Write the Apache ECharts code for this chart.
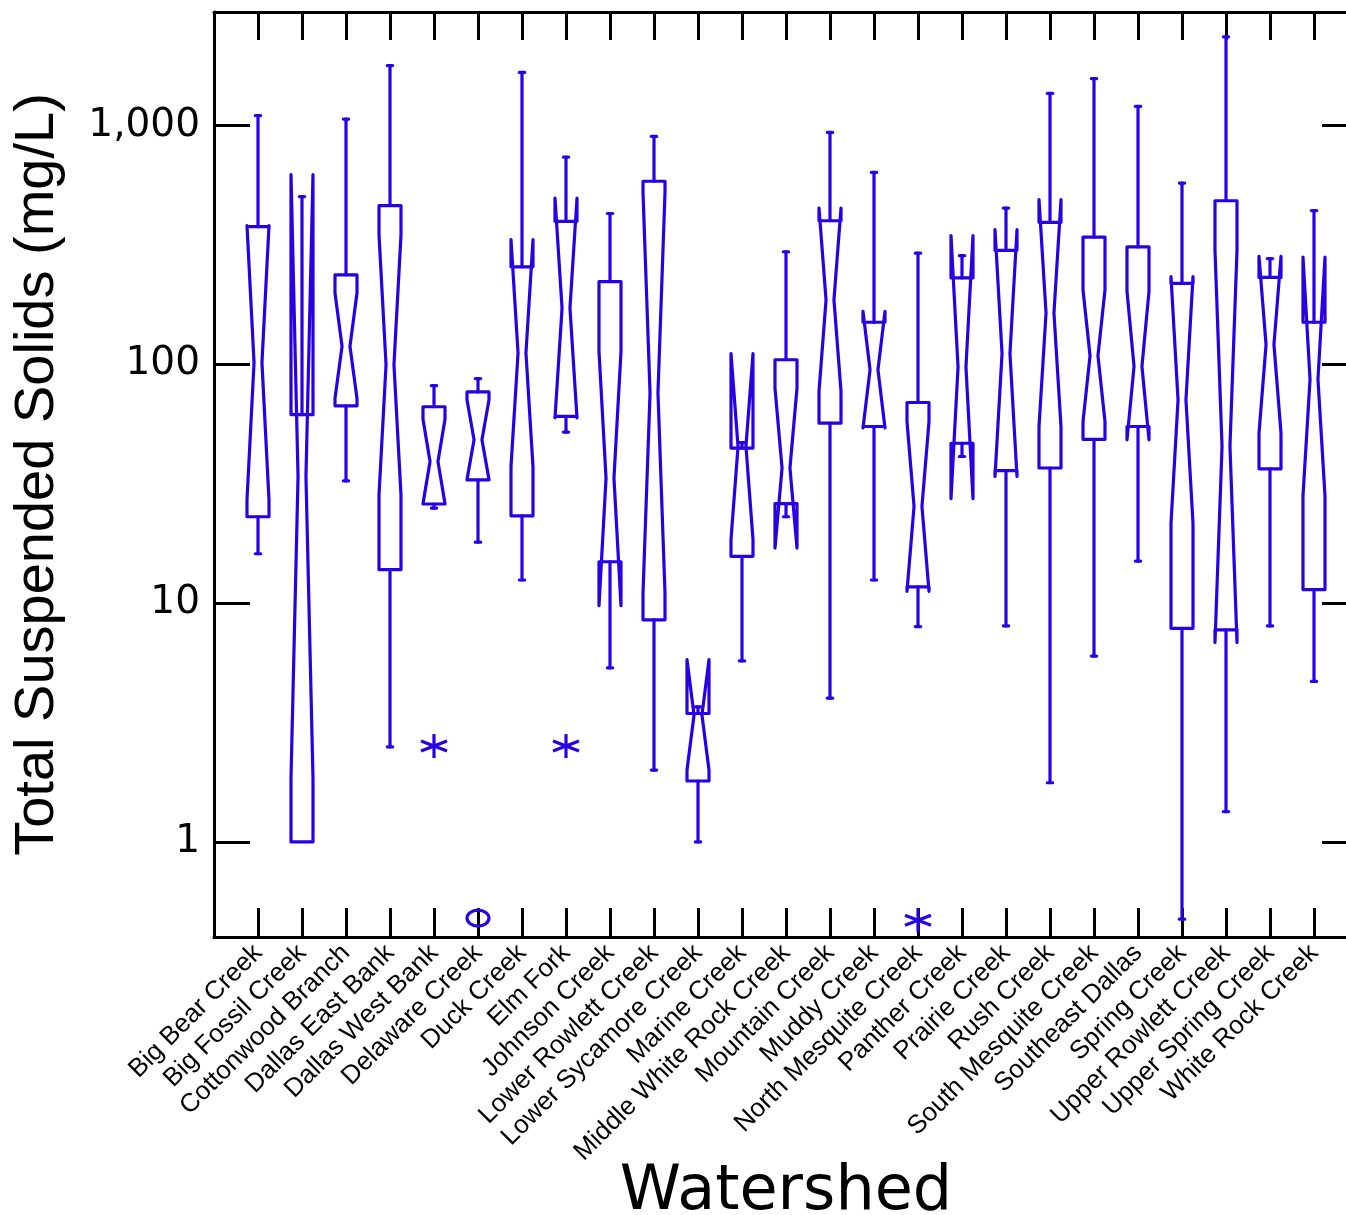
<!DOCTYPE html>
<html><head><meta charset="utf-8">
<script src="https://cdn.jsdelivr.net/npm/echarts@6/dist/echarts.min.js"></script>
<style>html,body{margin:0;padding:0;background:#fff}#c{width:1346px;height:1215px}</style>
</head><body><div id="c"></div>
<script>
const categories = ['Big Bear Creek','Big Fossil Creek','Cottonwood Branch','Dallas East Bank','Dallas West Bank','Delaware Creek','Duck Creek','Elm Fork','Johnson Creek','Lower Rowlett Creek','Lower Sycamore Creek','Marine Creek','Middle White Rock Creek','Mountain Creek','Muddy Creek','North Mesquite Creek','Panther Creek','Prairie Creek','Rush Creek','South Mesquite Creek','Southeast Dallas','Spring Creek','Upper Rowlett Creek','Upper Spring Creek','White Rock Creek'];
const whiskerLow  = [16.1, 1.0, 32.5, 2.5, 25, 18.0, 12.5, 52, 5.36, 2.0, 1.0, 5.73, 23.0, 4.0, 12.5, 7.98, 41.1, 8.03, 1.77, 6.0, 15.0, 0.475, 1.34, 8.03, 4.7];
const q1          = [23.0, 1.0, 67, 13.8, 26, 32.8, 23.2, 60.5, 14.9, 8.51, 1.8, 15.7, 26.1, 56.7, 54.9, 11.7, 46.7, 35.9, 36.8, 48.5, 54.9, 7.84, 7.73, 36.5, 11.4];
const median      = [101.6, 33.9, 119, 99.6, 39.2, 48.3, 111.5, 172, 33.4, 75.8, 3.4, 45.3, 36.8, 186, 94.9, 25.4, 97.4, 111, 164, 108.6, 98, 71, 45.3, 120.8, 86.6];
const q3          = [377, 61.5, 237, 462, 66.4, 76.6, 256, 397, 222, 584, 3.45, 44.6, 104.5, 399, 150, 69.2, 230, 300, 393, 341, 310, 218, 484, 231, 150];
const whiskerHigh = [1100, 504, 1064, 1782, 81.4, 87.1, 1668, 737, 428, 900, 3.68, 47, 296, 935, 636, 292, 285, 451, 1362, 1571, 1201, 574, 2350, 277, 440];
const notchLow    = [27.1, 1.85, 72, 28.4, 26.1, 32.9, 37.3, 59.7, 9.75, 11.0, 2.0, 18.5, 17.0, 77, 54.1, 11.2, 27.4, 33.9, 54.8, 57.5, 48.3, 21.6, 6.84, 51.5, 28.1];
const notchHigh   = [381, 623, 199, 348, 58.9, 71, 333, 497, 113, 524, 5.8, 110.8, 79.4, 451, 166.6, 57.5, 346, 366, 489, 205, 202, 233, 300, 283, 281];

const outlierCategory = ['Dallas West Bank', 'Delaware Creek', 'Elm Fork', 'North Mesquite Creek'];
const outlierValue    = [2.52, 0.48, 2.52, 0.47];
const outlierSymbol   = ['star', 'circle', 'star', 'star'];

const yTicks = [1, 10, 100, 1000];
const yTickLabels = ['1', '10', '100', '1,000'];

const blue = '#2800e6';
const boxData = categories.map((c, i) => [i + 1, whiskerLow[i], q1[i], median[i], q3[i], whiskerHigh[i], notchLow[i], notchHigh[i]]);
const outData = outlierCategory.map((c, i) => [categories.indexOf(c) + 1, outlierValue[i], outlierSymbol[i] === 'circle' ? 1 : 0]);

function renderBox(params, api) {
  const x = api.value(0);
  const med = api.value(3);
  const cx = api.coord([x, med])[0];
  const bw = api.coord([x + 0.5, med])[0] - api.coord([x - 0.5, med])[0];
  const hw = bw * 0.25, nw = bw * 0.09, capW = bw * 0.06;
  const y = v => api.coord([x, v])[1];
  const yWL = y(api.value(1)), yQ1 = y(api.value(2)), yMed = y(med), yQ3 = y(api.value(4)),
        yWH = y(api.value(5)), yNL = y(api.value(6)), yNH = y(api.value(7));
  const st = {fill: null, stroke: blue, lineWidth: 3.2, lineJoin: 'round', lineCap: 'round'};
  const children = [{
    type: 'polygon',
    shape: {points: [[cx - hw, yQ1], [cx - hw, yNL], [cx - nw, yMed], [cx - hw, yNH], [cx - hw, yQ3],
                     [cx + hw, yQ3], [cx + hw, yNH], [cx + nw, yMed], [cx + hw, yNL], [cx + hw, yQ1]]},
    style: st
  }];
  if (yQ3 - yWH > 0.5) {
    children.push({type: 'line', shape: {x1: cx, y1: yQ3, x2: cx, y2: yWH}, style: st});
    children.push({type: 'line', shape: {x1: cx - capW, y1: yWH, x2: cx + capW, y2: yWH}, style: st});
  }
  if (yWL - yQ1 > 0.5) {
    children.push({type: 'line', shape: {x1: cx, y1: yQ1, x2: cx, y2: yWL}, style: st});
    children.push({type: 'line', shape: {x1: cx - capW, y1: yWL, x2: cx + capW, y2: yWL}, style: st});
  }
  return {type: 'group', children};
}

function renderOutlier(params, api) {
  const p = api.coord([api.value(0), api.value(1)]);
  const st = {fill: null, stroke: blue, lineWidth: 3.2, lineCap: 'butt'};
  if (api.value(2) === 1) {
    return {type: 'ellipse', shape: {cx: p[0], cy: p[1], rx: 11, ry: 8}, style: st};
  }
  return {type: 'group', children: [
    {type: 'line', shape: {x1: p[0], y1: p[1] - 12, x2: p[0], y2: p[1] + 12}, style: st},
    {type: 'line', shape: {x1: p[0] - 13, y1: p[1] - 5, x2: p[0] + 13, y2: p[1] + 5}, style: st},
    {type: 'line', shape: {x1: p[0] - 13, y1: p[1] + 5, x2: p[0] + 13, y2: p[1] - 5}, style: st}
  ]};
}

const axisLineStyle = {color: '#000', width: 3};
const yFmt = v => {
  const i = yTicks.findIndex(t => Math.abs(t - v) / t < 1e-6);
  return i >= 0 ? yTickLabels[i] : '';
};

const chart = echarts.init(document.getElementById('c'), null, {renderer: 'canvas'});
chart.setOption({
  animation: false,
  backgroundColor: '#fff',
  grid: {left: 214, top: 12, width: 1144, height: 925, containLabel: false, outerBoundsMode: 'none'},
  xAxis: [{
    type: 'value', min: 0, max: 26, interval: 1, position: 'bottom',
    name: 'Watershed', nameLocation: 'middle', nameGap: 256, nameMoveOverlap: false,
    nameTextStyle: {fontFamily: 'DejaVu Sans', fontSize: 62, color: '#000', verticalAlign: 'middle', lineHeight: 62},
    axisLine: {show: true, onZero: false, lineStyle: axisLineStyle},
    axisTick: {show: true, inside: true, length: 29, lineStyle: axisLineStyle},
    axisLabel: {show: true, rotate: 45, margin: 12, fontFamily: 'Liberation Sans', fontSize: 26, color: '#000',
      formatter: v => categories[Math.round(v) - 1] || ''},
    splitLine: {show: false}
  }, {
    type: 'value', min: 0, max: 26, interval: 1, position: 'top',
    axisLine: {show: true, onZero: false, lineStyle: axisLineStyle},
    axisTick: {show: true, inside: true, length: 28, lineStyle: axisLineStyle},
    axisLabel: {show: false}, splitLine: {show: false}
  }],
  yAxis: [{
    type: 'log', logBase: 10, min: 0.4, max: 2986, position: 'left',
    name: 'Total Suspended Solids (mg/L)', nameLocation: 'middle', nameRotate: 90, nameGap: 148, nameMoveOverlap: false,
    nameTextStyle: {fontFamily: 'Liberation Sans', fontSize: 56, color: '#000'},
    axisLine: {show: true, onZero: false, lineStyle: axisLineStyle},
    axisTick: {show: true, inside: true, length: 36, lineStyle: axisLineStyle},
    axisLabel: {show: true, margin: 14, fontFamily: 'DejaVu Sans', fontSize: 39, color: '#000', formatter: yFmt},
    splitLine: {show: false}, minorTick: {show: false}, minorSplitLine: {show: false}
  }, {
    type: 'log', logBase: 10, min: 0.4, max: 2986, position: 'right',
    axisLine: {show: true, onZero: false, lineStyle: axisLineStyle},
    axisTick: {show: true, inside: true, length: 36, lineStyle: axisLineStyle},
    axisLabel: {show: false}, splitLine: {show: false}
  }],
  series: [{
    type: 'custom', xAxisIndex: 0, yAxisIndex: 0, renderItem: renderBox, data: boxData,
    encode: {x: 0, y: [1, 2, 3, 4, 5, 6, 7]}, clip: false, silent: true
  }, {
    type: 'custom', xAxisIndex: 0, yAxisIndex: 0, renderItem: renderOutlier, data: outData,
    encode: {x: 0, y: 1}, clip: false, silent: true
  }]
});
</script></body></html>
